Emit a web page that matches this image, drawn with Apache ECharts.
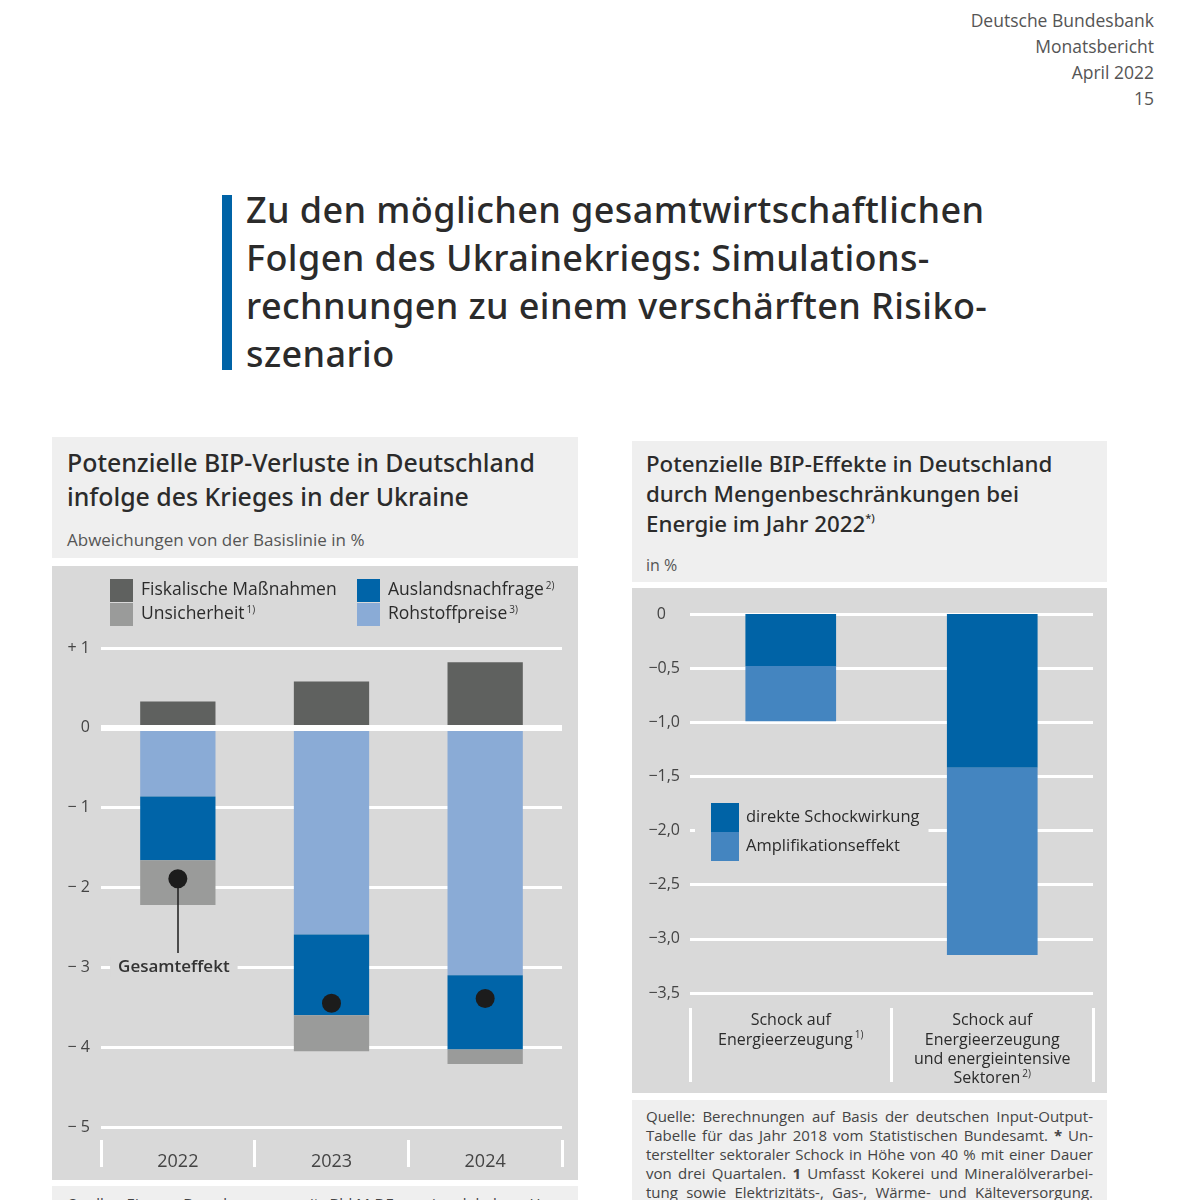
<!DOCTYPE html>
<html><head><meta charset="utf-8">
<script src="https://cdn.jsdelivr.net/npm/echarts@6/dist/echarts.min.js"></script>
<style>
html,body{margin:0;padding:0;background:#fff;width:1200px;height:1200px;overflow:hidden;font-family:'Open Sans',sans-serif;color:#333;}
.abs{position:absolute;}
#pagehead{right:46px;top:7px;text-align:right;font-size:17.5px;line-height:26px;color:#555;}
#titlebar{left:222px;top:195px;width:10px;height:175px;background:#0063a6;}
#title{left:246px;top:186px;font-family:'Noto Sans',sans-serif;font-size:36px;line-height:48px;letter-spacing:0.4px;color:#2b2b2b;font-weight:500;white-space:nowrap;}
.light{background:#efefef;}
.dark{background:#d9d9d9;}
.ph{white-space:nowrap;color:#2b2b2b;font-family:'Noto Sans',sans-serif;font-weight:500;}
sup{font-size:0.5em;vertical-align:0.9em;line-height:0;}
.src{font-size:15px;line-height:19px;color:#444;}
.src div{text-align:justify;text-align-last:justify;white-space:nowrap;}
</style></head>
<body>
<div id="pagehead" class="abs">Deutsche Bundesbank<br>Monatsbericht<br>April 2022<br>15</div>
<div id="titlebar" class="abs"></div>
<div id="title" class="abs">Zu den möglichen gesamtwirtschaftlichen<br>Folgen des Ukrainekriegs: Simulations-<br>rechnungen zu einem verschärften Risiko-<br>szenario</div>

<div class="abs light" style="left:52px;top:437px;width:526px;height:121px;"></div>
<div class="abs ph" style="left:67px;top:445px;font-size:24.9px;line-height:34px;">Potenzielle BIP-Verluste in Deutschland<br>infolge des Krieges in der Ukraine</div>
<div class="abs ph" style="left:67px;top:529px;font-size:17px;line-height:22px;color:#555;font-weight:400;font-family:'Open Sans',sans-serif;">Abweichungen von der Basislinie in %</div>
<div id="leftchart" class="abs dark" style="left:52px;top:566px;width:526px;height:614px;"></div>
<div class="abs light src" style="left:52px;top:1186px;width:526px;height:40px;"><div style="margin:8px 15px 0 15px;">Quelle: Eigene Berechnungen mit BbkM-DE sowie globalem Han-</div></div>

<div class="abs light" style="left:632px;top:441px;width:475px;height:141px;"></div>
<div class="abs ph" style="left:646px;top:449px;font-size:22.3px;line-height:30px;">Potenzielle BIP-Effekte in Deutschland<br>durch Mengenbeschränkungen bei<br>Energie im Jahr 2022<sup>*)</sup></div>
<div class="abs ph" style="left:646px;top:556px;font-size:16px;line-height:18px;color:#555;font-weight:400;font-family:'Open Sans',sans-serif;">in %</div>
<div id="rightchart" class="abs dark" style="left:632px;top:588px;width:475px;height:505px;"></div>
<div class="abs light src" style="left:632px;top:1100px;width:475px;height:110px;">
<div style="margin:7px 14px 0 14px;">
<div>Quelle: Berechnungen auf Basis der deutschen Input-Output-</div>
<div>Tabelle für das Jahr 2018 vom Statistischen Bundesamt. <b>*</b> Un-</div>
<div>terstellter sektoraler Schock in Höhe von 40 % mit einer Dauer</div>
<div>von drei Quartalen. <b>1</b> Umfasst Kokerei und Mineralölverarbei-</div>
<div>tung sowie Elektrizitäts-, Gas-, Wärme- und Kälteversorgung.</div>
</div></div>

<script>
const FONT = "'Open Sans', sans-serif";

// ---- Left chart data ----
const leftCategories = ['2022', '2023', '2024'];
const fiskalischeMassnahmen = [0.33, 0.58, 0.82];
const rohstoffpreise = [-0.86, -2.59, -3.10];
const auslandsnachfrage = [-0.80, -1.01, -0.93];
const unsicherheit = [-0.56, -0.45, -0.18];
const gesamteffekt = [-1.89, -3.45, -3.39];
const leftFootnotes = {'Unsicherheit': '1)', 'Auslandsnachfrage': '2)', 'Rohstoffpreise': '3)'};

// ---- Right chart data ----
const rightCategories = ['Schock auf\nEnergieerzeugung', 'Schock auf\nEnergieerzeugung\nund energieintensive\nSektoren'];
const rightFootnotes = ['1)', '2)'];
const direkteSchockwirkung = [-0.48, -1.42];
const amplifikationseffekt = [-0.51, -1.73];

const supRich = {sup: {fontSize: 10, verticalAlign: 'top', lineHeight: 10, padding: [0, 0, 0, 2], color: '#333', fontFamily: FONT}};
const legendFmt = name => name + (leftFootnotes[name] ? '{sup|' + leftFootnotes[name] + '}' : '');

const C = {fisk: '#5f615f', uns: '#9a9b9a', ausl: '#0064a8', roh: '#8aabd6', dir: '#0063a6', amp: '#4485c0'};

const left = echarts.init(document.getElementById('leftchart'));
left.setOption({
  animation: false,
  textStyle: {fontFamily: FONT},
  grid: {left: 49, right: 16, top: 82, bottom: 53},
  legend: [
    {data: ['Fiskalische Maßnahmen', 'Unsicherheit'], orient: 'vertical', left: 53, top: 8,
     itemWidth: 23, itemHeight: 23, itemGap: 1, icon: 'rect', selectedMode: false, formatter: legendFmt,
     textStyle: {fontSize: 17.5, color: '#2b2b2b', padding: [0, 0, 0, 3], rich: supRich}},
    {data: ['Auslandsnachfrage', 'Rohstoffpreise'], orient: 'vertical', left: 300, top: 8,
     itemWidth: 23, itemHeight: 23, itemGap: 1, icon: 'rect', selectedMode: false, formatter: legendFmt,
     textStyle: {fontSize: 17.5, color: '#2b2b2b', padding: [0, 0, 0, 3], rich: supRich}}
  ],
  xAxis: {type: 'category', data: leftCategories, offset: 13,
    axisLine: {show: false, onZero: false},
    axisTick: {show: true, interval: 0, length: 27, lineStyle: {color: '#fff', width: 3}},
    axisLabel: {interval: 0, margin: 13, fontSize: 18, color: '#444'}},
  yAxis: {type: 'value', min: -5, max: 1, interval: 1,
    axisLine: {show: false}, axisTick: {show: false},
    splitLine: {lineStyle: {color: '#fff', width: 3}},
    axisLabel: {margin: 11, fontSize: 16, color: '#444',
      formatter: v => v > 0 ? '+ ' + v : (v < 0 ? '\u2212 ' + (-v) : '0')}},
  series: [
    {name: 'Fiskalische Maßnahmen', type: 'bar', stack: 's', barWidth: '49%', data: fiskalischeMassnahmen, itemStyle: {color: C.fisk}},
    {name: 'Rohstoffpreise', type: 'bar', stack: 's', data: rohstoffpreise, itemStyle: {color: C.roh}},
    {name: 'Auslandsnachfrage', type: 'bar', stack: 's', data: auslandsnachfrage, itemStyle: {color: C.ausl}},
    {name: 'Unsicherheit', type: 'bar', stack: 's', data: unsicherheit, itemStyle: {color: C.uns}},
    {name: 'Gesamteffekt', type: 'scatter', z: 5, data: gesamteffekt, symbolSize: 19, itemStyle: {color: '#1c1c1c', opacity: 1},
      markLine: {silent: true, symbol: 'none', label: {show: false}, animation: false,
        data: [
          {yAxis: 0, lineStyle: {color: '#fff', width: 6, type: 'solid'}},
          [{coord: [leftCategories[0], gesamteffekt[0]], lineStyle: {color: '#1c1c1c', width: 1.5, type: 'solid'}},
           {coord: [leftCategories[0], -2.82]}]
        ]},
      markPoint: {silent: true, symbol: 'rect', symbolSize: 1, itemStyle: {color: 'rgba(0,0,0,0)'},
        label: {show: true, position: 'inside', offset: [-4, 0], formatter: 'Gesamteffekt', backgroundColor: '#d9d9d9',
          padding: [2, 8], fontSize: 17, fontWeight: 600, color: '#333', fontFamily: FONT},
        data: [{coord: [leftCategories[0], -3.0]}]}
    }
  ]
});

const right = echarts.init(document.getElementById('rightchart'));
right.setOption({
  animation: false,
  textStyle: {fontFamily: FONT},
  grid: {left: 58, right: 14, top: 26, bottom: 100},
  legend: {data: ['direkte Schockwirkung', 'Amplifikationseffekt'], orient: 'vertical', left: 63, top: 210,
    padding: [5, 9, 5, 16], backgroundColor: '#d9d9d9',
    itemWidth: 28, itemHeight: 29, itemGap: 0, icon: 'rect', selectedMode: false,
    textStyle: {fontSize: 16.5, color: '#2b2b2b', padding: [0, 0, 0, 2]}},
  xAxis: {type: 'category', data: rightCategories, offset: 15,
    axisLine: {show: false, onZero: false},
    axisTick: {show: true, interval: 0, length: 74, lineStyle: {color: '#fff', width: 3}},
    axisLabel: {interval: 0, margin: 3, fontSize: 16, lineHeight: 19.4, color: '#2b2b2b',
      formatter: (v, i) => v + '{sup|' + rightFootnotes[i] + '}', rich: supRich}},
  yAxis: {type: 'value', min: -3.5, max: 0, interval: 0.5,
    axisLine: {show: false}, axisTick: {show: false},
    splitLine: {lineStyle: {color: '#fff', width: 3}},
    axisLabel: {margin: 10, fontSize: 16, color: '#444',
      formatter: v => v === 0 ? '0{pad|}' : '\u2212' + (-v).toFixed(1).replace('.', ','),
      rich: {pad: {width: 14}}}},
  series: [
    {name: 'direkte Schockwirkung', type: 'bar', stack: 's', barWidth: '45%', data: direkteSchockwirkung, itemStyle: {color: C.dir}},
    {name: 'Amplifikationseffekt', type: 'bar', stack: 's', data: amplifikationseffekt, itemStyle: {color: C.amp}}
  ]
});
</script>
</body></html>
